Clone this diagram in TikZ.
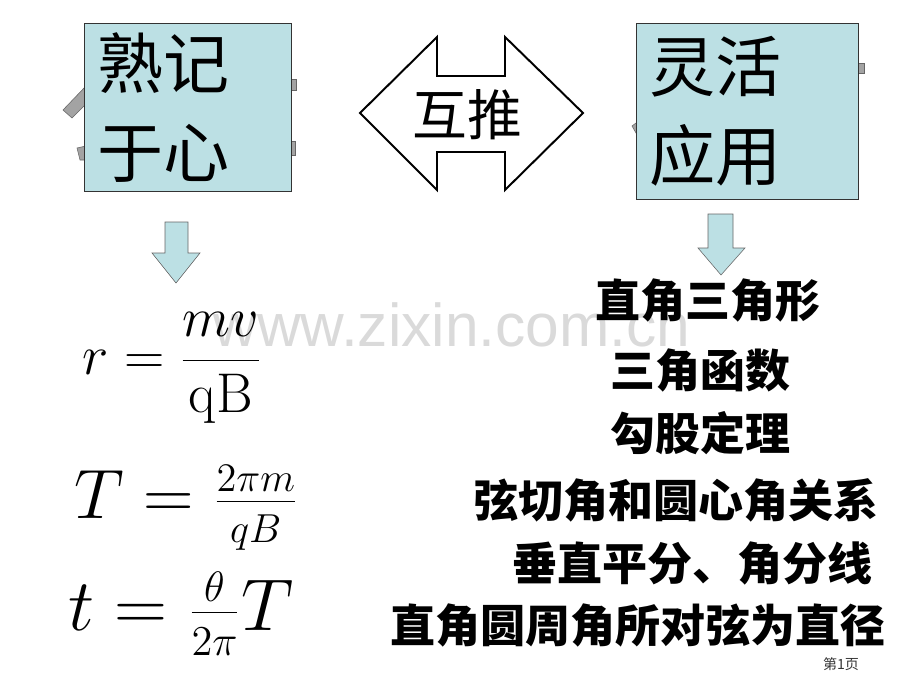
\documentclass[tikz,border=0pt]{standalone}
\usepackage{graphicx}
\usepackage{fontspec}
\usepackage{tikz}
\usetikzlibrary{positioning}
\newfontfamily\cjk{Noto Sans CJK SC}
\newfontfamily\wmfont{Liberation Sans}
\definecolor{boxcyan}{HTML}{BCE0E4}
\definecolor{tabgray}{HTML}{A3A3A3}
\definecolor{wmgray}{HTML}{DADADA}
\DeclareMathSizes{24.88}{24.88}{14.4}{10}

\begin{document}
\begin{tikzpicture}[x=0.025cm, y=-0.025cm,
  memobox/.style={rectangle, draw=black!80, fill=boxcyan, anchor=north west, align=left, inner xsep=0.33cm, inner ysep=0pt, font=\cjk\fontsize{47}{59}\selectfont},
  tab/.style={fill=tabgray, draw=black!60, thin},
  downarrow/.style={fill=boxcyan, draw=black!60, thin},
  itemtext/.style={font=\cjk\bfseries\fontsize{32}{38}\selectfont, inner sep=0pt},
  formula/.style={anchor=west, inner sep=0pt, font=\Huge}]

\useasboundingbox (0,0) rectangle (920,690);

% watermark
\node at (452,325) [text=wmgray, font=\wmfont\fontsize{43}{50}\selectfont] (mark) {www.zixin.com.cn};

% little tabs behind the boxes
\draw[tab] (63,110) -- (72,118) -- (86,104) -- (86,86) -- cycle;
\draw[tab] (77,148) -- (86,146) -- (86,160) -- (80,160) -- cycle;
\draw[tab] (288,79) rectangle (296,90);
\draw[tab] (288,141) rectangle (295,155);
\draw[tab] (855,63) rectangle (864,73);
\draw[tab] (632,126) -- (640,120) -- (640,140) -- cycle;

% the two boxes
\node at (84,23) [memobox, text width=4.515cm, minimum height=4.2cm] (remember) {\vspace{4pt}熟记\\于心};
\node at (636,23) [memobox, text width=4.89cm, minimum height=4.4cm] (apply) {\vspace{4pt}灵活\\应用};

% double arrow between them
\draw[black, line width=1.4pt, fill=white] (360,113) -- (437,37) -- (437,76) -- (505,76) -- (505,37) -- (583,113)
  -- (505,190) -- (505,152) -- (437,152) -- (437,190) -- cycle;
\node at (467,115) [font=\cjk\fontsize{39}{44}\selectfont] (mutual) {互推};

% arrows down
\draw[downarrow] (165,222) -- (188,222) -- (188,253) -- (200,253) -- (176,283) -- (152,253) -- (165,253) -- cycle;
\draw[downarrow] (708,214) -- (733,214) -- (733,248) -- (745,248) -- (721,275) -- (698,248) -- (708,248) -- cycle;

% formulas
\node at (82,368) [formula] (radius) {\scalebox{1.6}{$\displaystyle r=\frac{mv}{\mathrm{qB}}$}};
\node at (74,508) [formula] (period) {\scalebox{2.0}{$T=\frac{2\pi m}{qB}$}};
\node at (68,614) [formula] (time) {\scalebox{2.1}{$t=\frac{\theta}{2\pi}T$}};

% what it is used with
\node at (708,300) [itemtext] (right1) {直角三角形};
\node at (700,370) [itemtext] (right2) {三角函数};
\node at (700,433) [itemtext] (right3) {勾股定理};
\node at (676,500) [itemtext] (right4) {弦切角和圆心角关系};
\node at (692,563) [itemtext] (right5) {垂直平分、角分线};
\node at (638,625) [itemtext] (right6) {直角圆周角所对弦为直径};

\node at (841,664) [font=\cjk\fontsize{10}{12}\selectfont, text=black!80] (page) {第1页};

\end{tikzpicture}
\end{document}
